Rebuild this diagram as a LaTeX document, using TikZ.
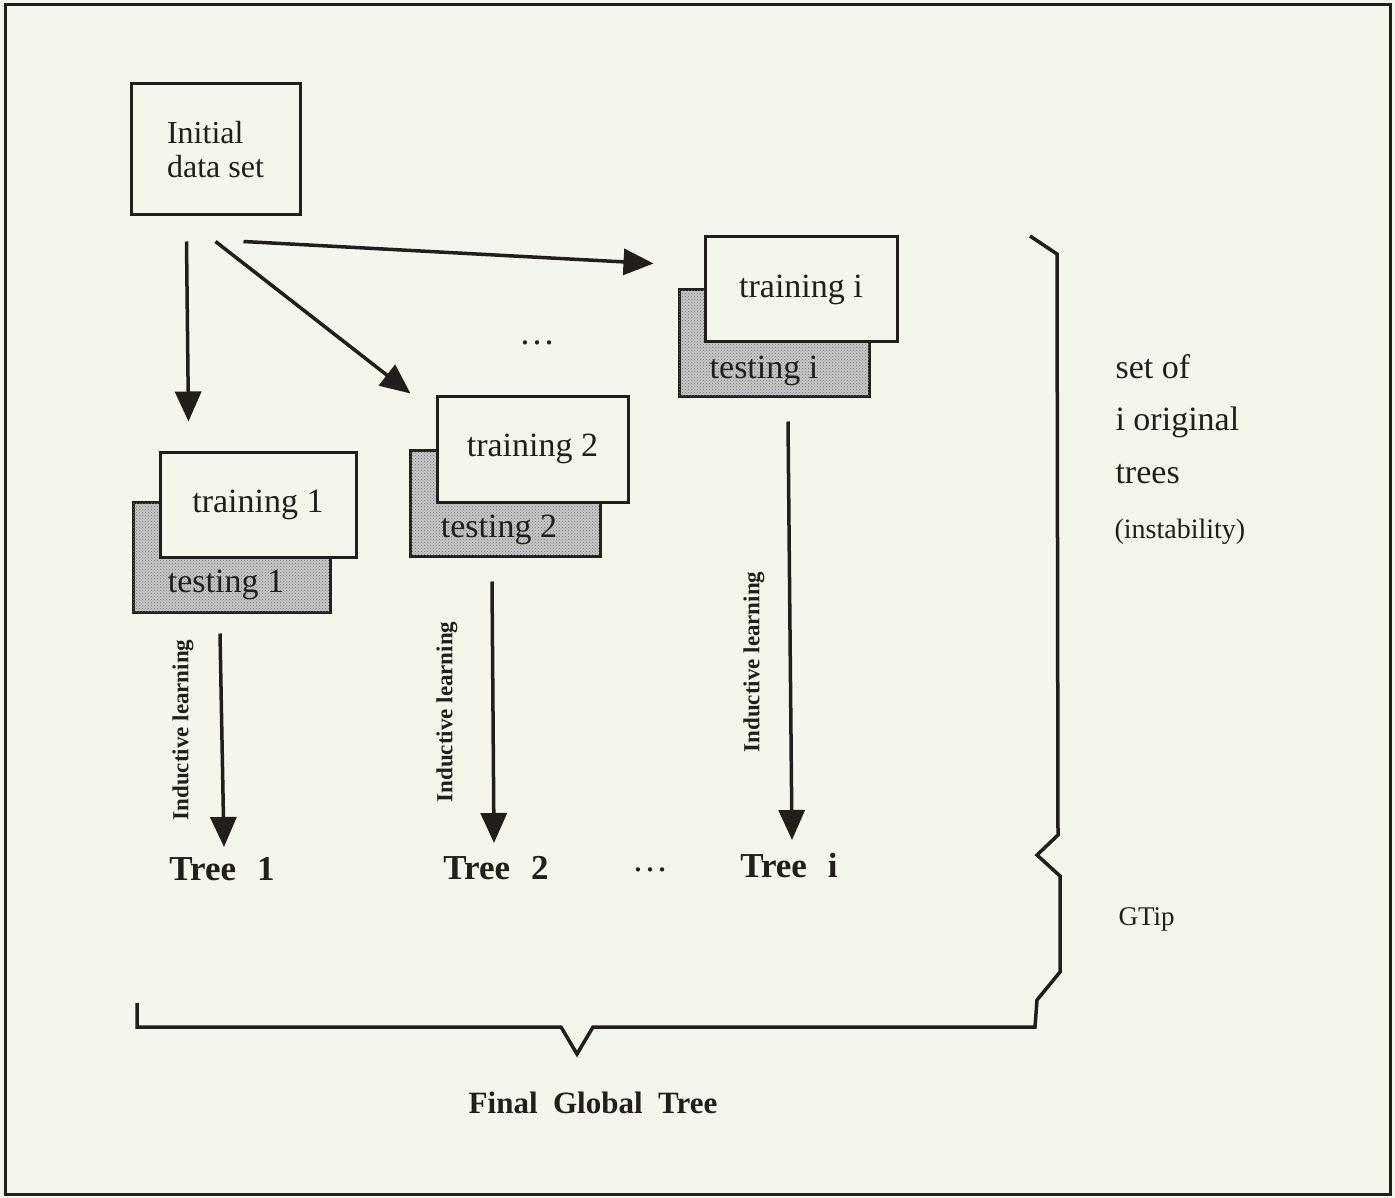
\documentclass[tikz,border=0pt]{standalone}
\usepackage{fontspec}
\setmainfont{Liberation Serif}
\usetikzlibrary{arrows.meta,patterns}
\definecolor{bgc}{HTML}{F4F5EB}
\definecolor{ink}{HTML}{221E1B}
\begin{document}
\begin{tikzpicture}[x=1pt,y=-1pt,
  every node/.style={text=ink},
  boxst/.style={draw=ink,line width=3pt,rectangle,inner sep=0pt,fill=bgc},
  testst/.style={draw=ink,line width=3pt,rectangle,inner sep=0pt,fill=black!22,
     postaction={pattern=crosshatch dots,pattern color=black!55}},
  arr/.style={draw=ink,line width=3.5pt,-{Triangle[length=30pt,width=26pt]}},
  brace/.style={draw=ink,line width=3.5pt,line join=miter},
  boxfont/.style={font=\fontsize{34}{29}\selectfont},
  initfont/.style={font=\fontsize{32}{34}\selectfont},
  treefont/.style={font=\fontsize{35}{40}\selectfont\bfseries},
  indfont/.style={font=\fontsize{23}{26}\selectfont\bfseries},
  sidefont/.style={font=\fontsize{34}{40}\selectfont},
]
\useasboundingbox (0,0) rectangle (1395,1198);
\fill[bgc] (0,0) rectangle (1395,1198);
\draw[ink,line width=3pt] (5,5) rectangle (1390,1194);

% initial box
\node[boxst,minimum width=169pt,minimum height=131pt,align=left,initfont] (init) at (215.5,149.5) {Initial\\data set};

% testing boxes (behind)
\node[testst,minimum width=197pt,minimum height=110pt] (te1) at (231.5,557) {};
\node[testst,minimum width=190pt,minimum height=106pt] (te2) at (505,503) {};
\node[testst,minimum width=190pt,minimum height=106pt] (tei) at (774,343) {};

% training boxes (front)
\node[boxst,minimum width=196pt,minimum height=105pt,boxfont] (tr1) at (258,504.5) {training 1};
\node[boxst,minimum width=191pt,minimum height=106pt,boxfont] (tr2) at (532.5,449) {training 2};
\node[boxst,minimum width=192pt,minimum height=105pt,boxfont] (tri) at (801,289.5) {training i};

% testing labels
\node[boxfont,anchor=base] (tl1) at (226,592) {testing 1};
\node[boxfont,anchor=base] (tl2) at (499,537) {testing 2};
\node[boxfont,anchor=base] (tli) at (764,378) {testing i};

% dots
\node[font=\fontsize{36}{36}\selectfont] (dots1) at (537,343) {\ldots};
\node[font=\fontsize{36}{36}\selectfont] (dots2) at (650,870) {\ldots};

% trees
\node[treefont,anchor=base] (tree1) at (222,880) {Tree\hspace{0.6em}1};
\node[treefont,anchor=base] (tree2) at (496,879) {Tree\hspace{0.6em}2};
\node[treefont,anchor=base] (treei) at (789,877) {Tree\hspace{0.6em}i};

% inductive learning labels
\node[indfont,rotate=90] (il1) at (183,730) {Inductive learning};
\node[indfont,rotate=90] (il2) at (447,712) {Inductive learning};
\node[indfont,rotate=90] (ili) at (754,662) {Inductive learning};

% side texts
\node[sidefont,anchor=base west] (st1) at (1112,378) {set of};
\node[sidefont,anchor=base west] (st2) at (1112,430) {i original};
\node[sidefont,anchor=base west] (st3) at (1112,483) {trees};
\node[font=\fontsize{28}{30}\selectfont,anchor=base west] (st4) at (1111,538) {(instability)};
\node[font=\fontsize{27}{30}\selectfont,anchor=base west] (gtip) at (1115,925) {GTip};
\node[font=\fontsize{31}{34}\selectfont\bfseries,anchor=base] (fgt) at (593,1113) {Final\hspace{0.5em}Global\hspace{0.5em}Tree};

% top arrows
\coordinate (s1) at ([xshift=57pt,yshift=-25pt]init.south west);
\coordinate (s2) at ([xshift=86pt,yshift=-25pt]init.south west);
\coordinate (s3) at ([xshift=114pt,yshift=-25pt]init.south west);
\draw[arr] (s1) -- ([xshift=30pt,yshift=29pt]tr1.north west);
\draw[arr] (s2) -- ([xshift=-25pt,yshift=1pt]tr2.north west);
\draw[arr] (s3) -- ([xshift=-50pt,yshift=-28pt]tri.north west);

% learning arrows
\draw[arr] ([xshift=-11.5pt,yshift=-20pt]te1.south) -- ([xshift=2pt,yshift=33pt]tree1.base);
\draw[arr] ([xshift=-13pt,yshift=-24pt]te2.south) -- ([xshift=-2pt,yshift=36pt]tree2.base);
\draw[arr] ([xshift=14pt,yshift=-24pt]tei.south) -- ([xshift=3pt,yshift=37pt]treei.base);

% braces
\draw[brace] (1030,236) -- (1057,254) -- (1058,835) -- (1037,855) -- (1060,876) -- (1060,972) -- (1037,1000) -- (1035,1027)
  -- (593,1027) -- (577,1054) -- (561,1027) -- (137,1027) -- (137,1003);
\end{tikzpicture}
\end{document}
